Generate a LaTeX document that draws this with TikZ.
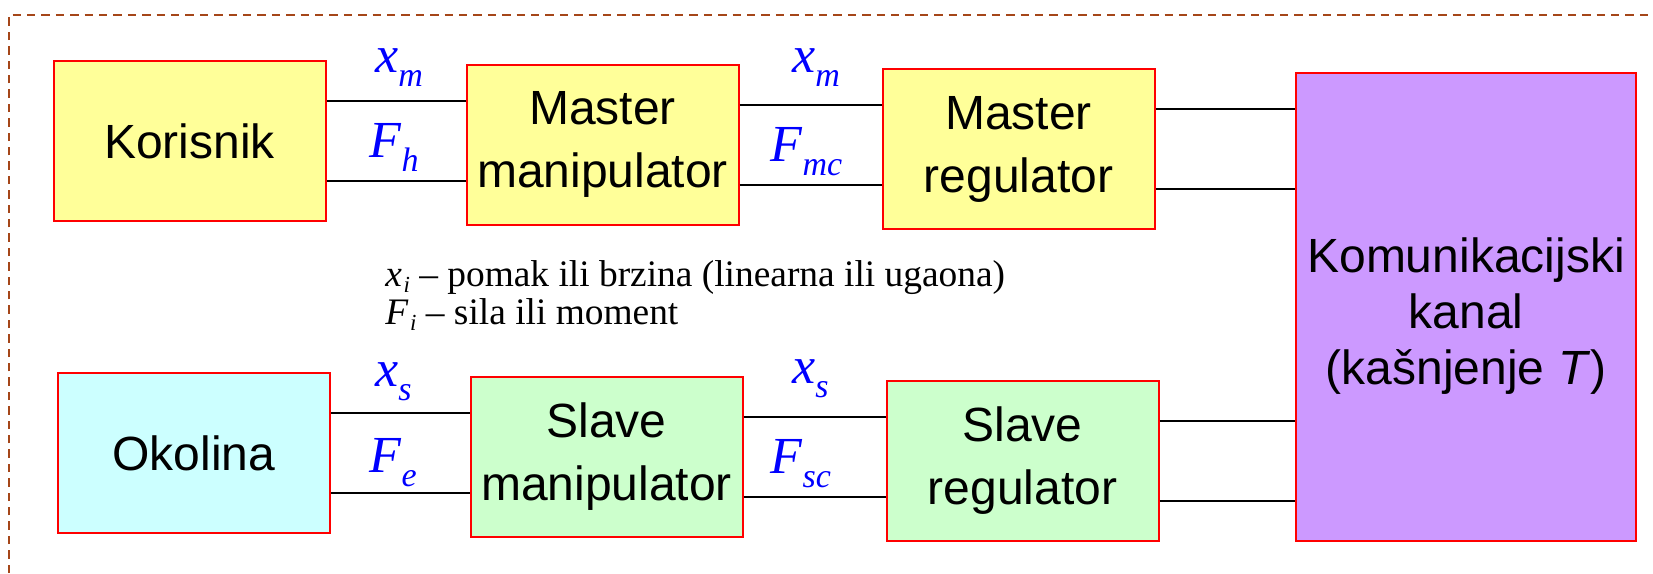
\documentclass[tikz,border=0pt]{standalone}
\usepackage{fontspec}
\setmainfont{Liberation Serif}
\setsansfont{Liberation Sans}
\definecolor{okvir}{RGB}{165,70,25}
\definecolor{zuta}{RGB}{255,255,153}
\definecolor{svplava}{RGB}{204,255,255}
\definecolor{zelena}{RGB}{204,255,204}
\definecolor{ljubicasta}{RGB}{204,153,255}
\newcommand{\sgnl}[2]{\textit{#1}\raisebox{-7pt}{\fontsize{17}{17}\selectfont\textit{#2}}}
\newcommand{\legsub}[2]{\textit{#1}\kern0.8pt\raisebox{-3pt}{\fontsize{11.5}{11.5}\selectfont\textit{#2}}}

\begin{document}
\begin{tikzpicture}[x=0.5pt, y=-0.5pt,
  blok/.style={draw=red, line width=1pt, inner sep=0pt, minimum width=136pt, minimum height=80pt, align=center, font=\sffamily\fontsize{24}{31.5}\selectfont},
  vez/.style={line width=1pt, black},
  sig/.style={inner sep=0pt, anchor=base west, text=blue, font=\fontsize{26}{26}\selectfont},
  leg/.style={inner sep=0pt, anchor=base west, align=left, font=\fontsize{18.7}{18.7}\selectfont}]
\useasboundingbox (0,0) rectangle (1653,573);
\draw[okvir, line width=1.4pt, dash pattern=on 4.2pt off 3pt] (9,573) -- (9,15) -- (1653,15);

\node[blok, fill=zuta] (kor) at (189.5,141) {Korisnik};
\node[blok, fill=zuta] (mman) at (602.5,144.5) {Master\\manipulator};
\node[blok, fill=zuta] (mreg) at (1018.5,149) {Master\\regulator};
\node[blok, fill=svplava] (okol) at (194,453) {Okolina};
\node[blok, fill=zelena] (sman) at (606.5,457) {Slave\\manipulator};
\node[blok, fill=zelena] (sreg) at (1022.5,461) {Slave\\regulator};
\node[blok, fill=ljubicasta, minimum width=170pt, minimum height=234pt] (kanal) at (1466,307) {};
\node[align=center, inner sep=0pt, font=\sffamily\fontsize{24}{28}\selectfont] (kanaltekst) at (1466,316) {Komunikacijski\\kanal\\(kašnjenje \textit{T})};

\foreach \a/\b in {kor/mman, mman/mreg, mreg/kanal, okol/sman, sman/sreg, sreg/kanal}
  \foreach \d in {20pt,-20pt}
    \draw[vez] ([yshift=\d]\a.east) -- ([yshift=\d]\a.east -| \b.west);

\node[sig] (xm1) at (375,72) {\sgnl{x}{m}};
\node[sig] (fh) at (369,157) {\sgnl{F}{h}};
\node[sig] (xm2) at (792,72) {\sgnl{x}{m}};
\node[sig] (fmc) at (770,161) {\sgnl{F}{mc}};
\node[sig] (xs1) at (375,386) {\sgnl{x}{s}};
\node[sig] (fe) at (369,472) {\sgnl{F}{e}};
\node[sig] (xs2) at (792,383) {\sgnl{x}{s}};
\node[sig] (fsc) at (770,473) {\sgnl{F}{sc}};

\node[leg] (legenda) at (385,324) {\legsub{x}{i} – pomak ili brzina (linearna ili ugaona)\\\legsub{F}{i} – sila ili moment};
\end{tikzpicture}
\end{document}
